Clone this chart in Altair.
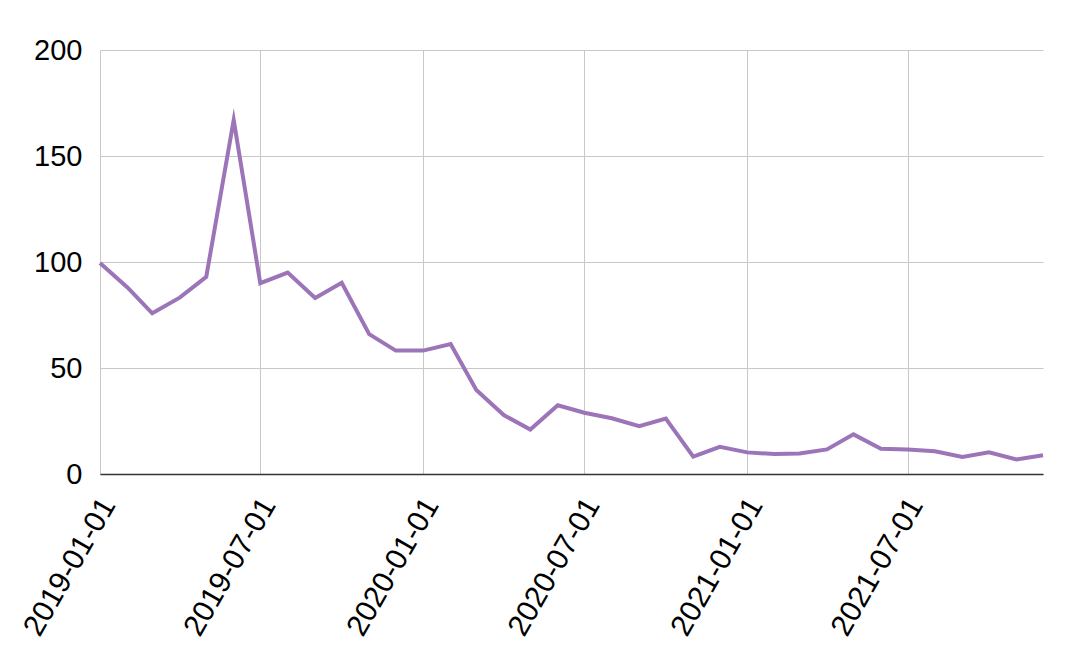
import altair as alt
import pandas as pd

dates = pd.date_range("2019-01-01", "2021-12-01", freq="MS").strftime("%Y-%m-%d").tolist()
values = [
    99.5, 88, 75.8, 83.2, 93, 167, 90, 95, 83, 90.2, 66, 58.2,
    58.2, 61.3, 39.6, 27.8, 21, 32.4, 28.9, 26.3, 22.6, 26.1, 8.2, 12.8,
    10.2, 9.4, 9.7, 11.6, 18.7, 11.9, 11.5, 10.7, 8, 10.2, 6.9, 8.8,
]
tick_dates = ["2019-01-01", "2019-07-01", "2020-01-01", "2020-07-01", "2021-01-01", "2021-07-01"]
y_ticks = [0, 50, 100, 150, 200]

df = pd.DataFrame({"date": dates, "value": values})

def dt(s):
    y, m, d = map(int, s.split("-"))
    return alt.DateTime(year=y, month=m, date=d, utc=True)

chart = alt.Chart(df).mark_line(color="#9c74b8", strokeWidth=4, strokeJoin="miter", strokeMiterLimit=10).encode(
    x=alt.X(
        "date:T",
        scale=alt.Scale(type="utc", domain=[dt(dates[0]), dt(dates[-1])], nice=False),
        axis=alt.Axis(
            title=None,
            values=[dt(s) for s in tick_dates],
            format="%Y-%m-%d",
            labelAngle=-60,
            labelAlign="right",
            labelBaseline="middle",
            labelFontSize=30,
            labelPadding=26,
            labelOffset=8,
            labelColor="#000000",
            labelFont="Liberation Sans",
            ticks=False,
            domainColor="#333333",
            domainWidth=1.5,
            gridColor="#c8c8c8",
            labelOverlap=False,
        ),
    ),
    y=alt.Y(
        "value:Q",
        scale=alt.Scale(domain=[0, 200], nice=False),
        axis=alt.Axis(
            title=None,
            values=y_ticks,
            labelFontSize=29,
            labelPadding=18,
            labelColor="#000000",
            labelFont="Liberation Sans",
            ticks=False,
            domain=False,
            gridColor="#c8c8c8",
        ),
    ),
).properties(
    width=943,
    height=424,
    autosize=alt.AutoSizeParams(type="none"),
    padding={"left": 92, "top": 42, "right": 20, "bottom": 180},
).configure_view(stroke=None)

chart.save("out.html", embed_options={"renderer": "svg", "actions": False})
